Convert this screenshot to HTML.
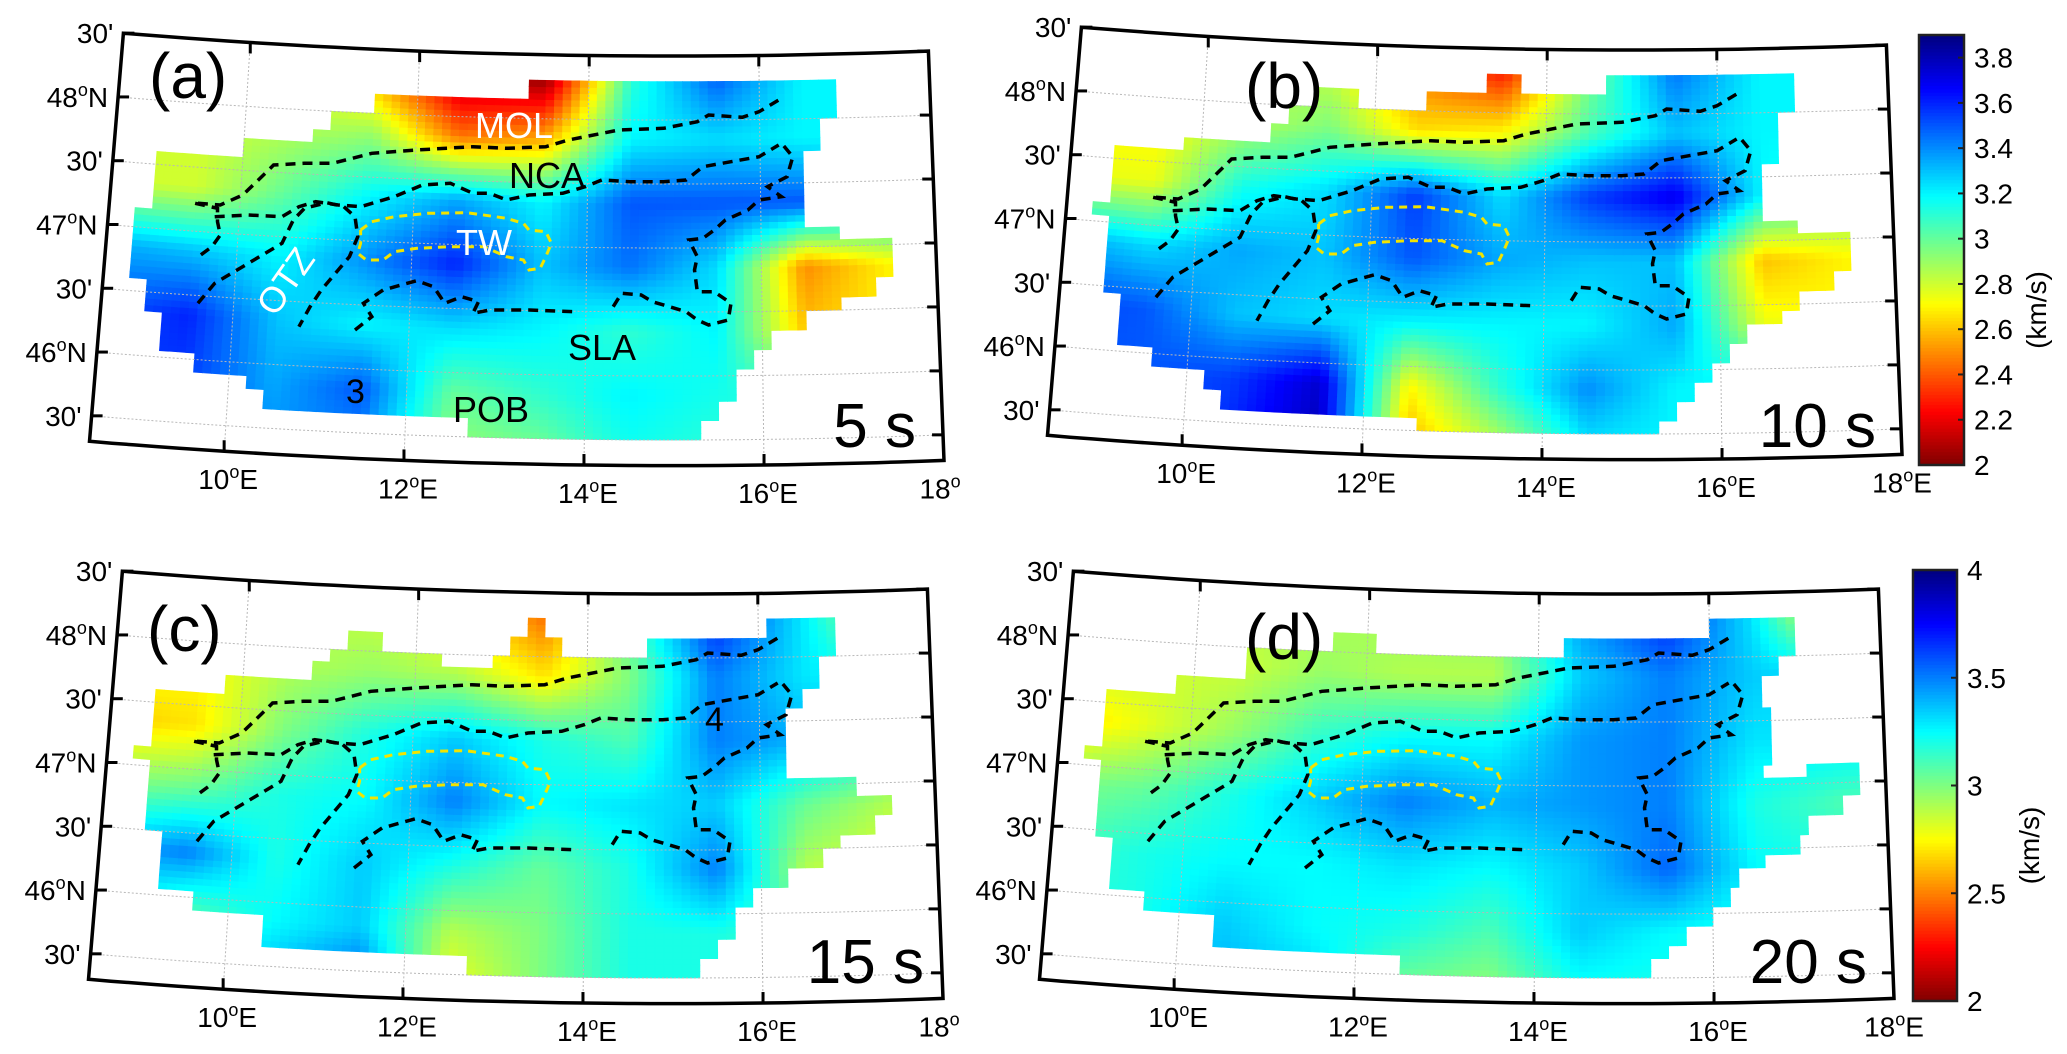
<!DOCTYPE html>
<html><head><meta charset="utf-8"><title>Group velocity maps</title>
<style>
html,body{margin:0;padding:0;background:#fff;}
svg{display:block;font-family:"Liberation Sans",Arial,sans-serif;}
</style></head>
<body>
<svg id="fig" width="2067" height="1054" viewBox="0 0 2067 1054" xmlns="http://www.w3.org/2000/svg">
<rect width="2067" height="1054" fill="#fff"/>
<g id="maps"></g>
<g id="cbars"></g>
</svg>
<script>
// ---------- data: node grid (km/s), lon nodes & lat nodes ----------
const lonNodes=[8.5,9.5,10.5,11.5,12.5,13.5,14.5,15.5,16.5,17.5];
const latNodes=[48.35,47.85,47.35,46.85,46.35,45.85,45.35];
const valuesA=[
[3.0,3.0,2.9,2.5,2.05,2.0,3.1,3.5,3.2,3.2],
[2.8,2.8,2.85,2.9,2.45,2.55,3.2,3.25,3.2,3.2],
[2.8,2.8,3.0,3.2,3.35,3.2,3.5,3.5,3.5,3.3],
[3.35,3.3,3.2,3.4,3.6,3.3,3.45,3.25,2.5,2.7],
[3.5,3.6,3.3,3.2,3.25,3.2,3.1,3.2,2.6,2.7],
[3.6,3.55,3.35,3.5,3.0,3.1,3.2,3.15,3.1,3.1],
[3.5,3.5,3.4,3.4,2.9,2.95,3.15,3.1,3.1,3.1]];
const valuesB=[
[2.9,2.9,2.9,2.8,2.45,2.25,2.95,3.45,3.2,3.2],
[2.7,2.7,2.85,2.95,2.65,2.7,3.05,3.3,3.2,3.2],
[2.75,2.75,3.15,3.25,3.55,3.25,3.55,3.7,3.2,3.0],
[3.35,3.25,3.35,3.3,3.5,3.35,3.3,3.3,2.6,2.7],
[3.55,3.5,3.3,3.25,3.2,3.2,3.2,3.35,2.75,2.7],
[3.5,3.5,3.55,3.75,2.7,3.1,3.4,3.2,3.2,3.2],
[3.5,3.5,3.6,3.8,2.55,2.8,3.2,3.2,3.2,3.2]];
const valuesC=[
[2.9,2.9,2.9,2.85,2.7,2.45,3.1,3.7,3.3,2.8],
[2.8,2.75,2.9,2.95,2.9,2.7,3.0,3.5,3.3,3.2],
[2.65,2.7,3.0,3.2,3.35,3.2,3.1,3.5,3.4,3.3],
[3.0,3.05,3.2,3.25,3.5,3.25,3.3,3.35,3.05,2.9],
[3.4,3.5,3.2,3.35,3.2,3.05,3.2,3.5,2.9,2.8],
[3.3,3.05,3.25,3.35,2.9,3.0,3.2,3.2,3.1,3.1],
[3.3,3.3,3.4,3.6,2.75,3.0,3.2,3.2,3.1,3.1]];
const valuesD=[
[2.9,2.9,2.9,2.9,2.95,3.0,3.45,3.7,3.3,2.6],
[2.9,2.85,2.85,2.95,2.9,2.9,3.35,3.5,3.35,3.3],
[2.65,2.8,2.95,3.15,3.25,3.25,3.45,3.5,3.3,3.3],
[3.0,3.05,3.2,3.35,3.5,3.4,3.45,3.5,3.2,3.1],
[3.1,3.2,3.25,3.25,3.3,3.25,3.35,3.55,3.25,3.2],
[3.2,3.2,3.35,3.25,3.2,3.1,3.35,3.25,3.2,3.2],
[3.2,3.2,3.4,3.35,3.0,2.95,3.2,3.2,3.2,3.2]];
// coverage masks: [latTop, latBottom, [[lonMin, lonMax], ...]]
const maskA=[
[48.28,48.13,[[13.25,16.9]]],[48.13,48.0,[[11.45,16.9]]],[48.0,47.87,[[11.0,16.7]]],
[47.87,47.74,[[10.8,16.7]]],[47.74,47.59,[[10.0,16.5]]],[47.59,47.17,[[9.0,16.5]]],
[47.17,47.04,[[8.8,16.9]]],[47.04,46.75,[[8.8,17.5]]],[46.75,46.62,[[8.8,17.3]]],
[46.62,46.49,[[9.0,16.9]]],[46.49,46.34,[[9.0,16.5]]],[46.34,46.2,[[9.2,16.1]]],
[46.2,46.07,[[9.2,15.9]]],[46.07,45.92,[[9.6,15.7]]],[45.92,45.79,[[10.2,15.7]]],
[45.79,45.64,[[10.4,15.5]]],[45.64,45.5,[[12.65,15.3]]]];
const maskB=[
[48.28,48.13,[[13.25,13.65],[14.65,16.9]]],[48.13,48.0,[[11.25,11.8],[12.6,16.9]]],
[48.0,47.85,[[11.0,16.7]]],[47.85,47.72,[[10.8,16.7]]],[47.72,47.58,[[9.8,16.7]]],
[47.58,47.16,[[9.0,16.5]]],[47.16,47.03,[[8.77,16.9]]],[47.03,46.74,[[9.0,17.5]]],
[46.74,46.59,[[9.0,17.3]]],[46.59,46.46,[[9.0,16.9]]],[46.46,46.33,[[9.15,16.7]]],
[46.33,46.18,[[9.15,16.3]]],[46.18,46.04,[[9.15,16.1]]],[46.04,45.91,[[9.57,15.9]]],
[45.91,45.76,[[10.2,15.7]]],[45.76,45.62,[[10.4,15.5]]],[45.62,45.49,[[12.6,15.25]]]];
const maskC=[
[48.29,48.15,[[13.27,13.46],[16.1,16.9]]],[48.15,48.01,[[11.24,11.64],[13.06,13.67],[14.69,16.9]]],
[48.01,47.88,[[11.0,12.25],[12.85,16.7]]],[47.88,47.74,[[10.8,16.7]]],[47.74,47.59,[[9.8,16.5]]],
[47.59,47.17,[[9.0,16.3]]],[47.17,47.04,[[8.8,16.3]]],[47.04,46.89,[[9.0,17.1]]],
[46.89,46.75,[[9.0,17.5]]],[46.75,46.62,[[9.0,17.3]]],[46.62,46.49,[[9.0,16.9]]],
[46.49,46.34,[[9.2,16.7]]],[46.34,46.2,[[9.2,16.3]]],[46.2,46.07,[[9.2,15.9]]],
[46.07,45.92,[[9.6,15.7]]],[45.92,45.79,[[10.4,15.7]]],[45.79,45.64,[[10.4,15.5]]],
[45.64,45.5,[[12.65,15.3]]]];
const maskD=[
[48.29,48.14,[[15.95,16.96]]],[48.14,48.01,[[11.63,12.06],[14.3,16.96]]],
[48.01,47.87,[[10.63,16.75]]],[47.87,47.73,[[10.63,16.55]]],[47.73,47.59,[[9.8,16.55]]],
[47.59,47.17,[[8.98,16.7]]],[47.17,47.03,[[8.78,16.55],[17.1,17.7]]],[47.03,46.89,[[8.98,17.7]]],
[46.89,46.75,[[8.98,17.5]]],[46.75,46.62,[[8.98,17.1]]],[46.62,46.47,[[8.98,16.95]]],
[46.47,46.34,[[9.19,16.55]]],[46.34,46.2,[[9.19,16.34]]],[46.2,46.05,[[9.19,16.15]]],
[46.05,45.91,[[9.6,15.95]]],[45.91,45.77,[[10.42,15.74]]],[45.77,45.64,[[10.42,15.54]]],
[45.64,45.5,[[12.46,15.33]]]];
const latTicks=[48.5,48,47.5,47,46.5,46,45.5];
const latTickLabels=["30'","48|N","30'","47|N","30'","46|N","30'"];
const lonTicks=[10,12,14,16,18];
const cbTicksTop=[2,2.2,2.4,2.6,2.8,3,3.2,3.4,3.6,3.8];
const cbLabelsTop=["2","2.2","2.4","2.6","2.8","3","3.2","3.4","3.6","3.8"];
const cbTicksBot=[2,2.5,3,3.5,4];
const cbLabelsBot=["2","2.5","3","3.5","4"];

// ---------- tectonic outlines traced (reference pixel trace of panel a) ----------
const traces=[
 {c:'k',p:[210,520,250,525,290,495,330,430,345,405,400,400,450,400,520,370,600,360,700,350,760,355,830,350,870,330,900,320,960,300,1040,295,1100,275,1120,255,1180,262,1210,245,1245,210]},
 {c:'k',p:[240,560,300,555,360,560,390,530,420,515,460,525,500,530,560,500,610,465,660,460,700,490,730,490,760,510,800,495,860,490,900,470,930,450,980,455,1040,455,1080,450,1110,410,1160,395,1210,380,1245,345]},
 {c:'k',p:[210,820,240,760,280,720,330,670,360,640,380,570,400,535,440,518,470,530,490,560,495,620,480,680,455,730,430,780,410,830,390,890]},
 {c:'k',p:[205,520,245,535,245,575,250,615,235,650,215,675]},
 {c:'k',p:[490,900,520,860,505,820,540,780,600,752,630,770,650,820,680,800,710,815,700,850,730,840,800,840,880,845,880,860]},
 {c:'k',p:[950,830,965,790,1000,795,1020,815,1050,830,1080,845,1100,870,1120,885,1155,870,1160,820,1130,785,1100,785,1095,720,1100,680,1085,630,1110,625,1130,600,1150,570,1190,540,1210,510,1250,500,1225,470,1260,440,1270,380,1250,340]},
 {c:'y',p:[500,600,520,575,560,560,620,550,690,548,760,565,790,580,800,600,830,605,840,640,830,680,820,715,800,720,790,690,760,680,720,650,660,650,600,655,560,665,540,690,510,690,495,670,500,640,500,600]}
];

const NS='http://www.w3.org/2000/svg';
const n=0.731,S=128,R0=6839,L0=15,D=Math.PI/180;
const LATMIN=45.3,LATMAX=48.5,LONMIN=8.5,LONMAX=18;
function proj(lon,lat,P){const th=n*(lon-L0)*D;const r=R0-(lat-47)*S;return [P.ax+r*Math.sin(th),P.ay+r*Math.cos(th)];}
function unproj(X,Y,P){const dx=X-P.ax,dy=Y-P.ay;const r=Math.hypot(dx,dy);const th=Math.atan2(dx,dy);return [L0+th/D/n,47+(R0-r)/S];}
function jet(t){const c=x=>Math.max(0,Math.min(1,x));return [c(1.5-Math.abs(4*t-3)),c(1.5-Math.abs(4*t-2)),c(1.5-Math.abs(4*t-1))];}
function color(v,vmin,vmax){let t=(v-vmin)/(vmax-vmin);t=Math.max(0,Math.min(1,t));const j=jet(1-t);return 'rgb('+j.map(x=>Math.round(x*255)).join(',')+')';}
function interp(vals,lon,lat){
 let i=(lon-lonNodes[0])/(lonNodes[1]-lonNodes[0]);let k=(latNodes[0]-lat)/(latNodes[0]-latNodes[1]);
 i=Math.max(0,Math.min(lonNodes.length-1.0001,i));k=Math.max(0,Math.min(latNodes.length-1.0001,k));
 const i0=Math.floor(i),k0=Math.floor(k),fi=i-i0,fk=k-k0;
 const a=vals[k0][i0],b=vals[k0][i0+1],c=vals[k0+1][i0],d=vals[k0+1][i0+1];
 return (a*(1-fi)+b*fi)*(1-fk)+(c*(1-fi)+d*fi)*fk;}
function inMask(mask,lon,lat){for(const r of mask){if(lat<=r[0]&&lat>r[1]){for(const s of r[2]){if(lon>=s[0]&&lon<=s[1])return true;}return false;}}return false;}
function el(tag,attrs,parent){const e=document.createElementNS(NS,tag);for(const k in attrs)e.setAttribute(k,attrs[k]);parent.appendChild(e);return e;}
function pts(arr){return arr.map(p=>p[0].toFixed(1)+','+p[1].toFixed(1)).join(' ');}

const PA={ax:674,ay:-6591};
const panels=[
 {key:'a',ax:674,ay:-6591,vals:valuesA,mask:maskA,vmin:2,vmax:3.9,lab:'(a)',lx:149,ly:98,per:'5 s',px:916,py:447,e18:false},
 {key:'b',ax:1632,ay:-6597,vals:valuesB,mask:maskB,vmin:2,vmax:3.9,lab:'(b)',lx:1245,ly:108,per:'10 s',px:1876,py:447,e18:true},
 {key:'c',ax:673,ay:-6053,vals:valuesC,mask:maskC,vmin:2,vmax:4,lab:'(c)',lx:147,ly:651,per:'15 s',px:924,py:983,e18:false},
 {key:'d',ax:1624,ay:-6053,vals:valuesD,mask:maskD,vmin:2,vmax:4,lab:'(d)',lx:1245,ly:659,per:'20 s',px:1867,py:983,e18:true}
];
const maps=document.getElementById('maps');
panels.forEach(P=>{
 const g=el('g',{},maps);
 
 
 const hm=el('g',{},g);
 
 
 const dlon=0.1,dlat=0.05;
 for(let lat=LATMIN;lat<LATMAX-1e-6;lat+=dlat){
  for(let lon=LONMIN;lon<LONMAX-1e-6;lon+=dlon){
   const cl=lon+dlon/2,ct=lat+dlat/2;
   if(!inMask(P.mask,cl,ct))continue;
   const col=color(interp(P.vals,cl,ct),P.vmin,P.vmax);
   const poly=el('polygon',{points:pts([proj(lon,lat,P),proj(lon+dlon,lat,P),proj(lon+dlon,lat+dlat,P),proj(lon,lat+dlat,P)]),fill:col,stroke:col,'stroke-width':0.7},hm);
   
   
  }
 }
 const gr=el('g',{stroke:'#b8b8b8','stroke-width':1,'stroke-dasharray':'2 2',fill:'none'},g);
 
 
 [45.5,46,46.5,47,47.5,48].forEach(la=>{const a=[];for(let lo=LONMIN;lo<=LONMAX+1e-6;lo+=0.25)a.push(proj(lo,la,P));el('polyline',{points:pts(a)},gr);});
 [10,12,14,16].forEach(lo=>{el('polyline',{points:pts([proj(lo,LATMIN,P),proj(lo,LATMAX,P)])},gr);});
 traces.forEach(t=>{
  const a=[];for(let i=0;i<t.p.length;i+=2){const X=80+t.p[i]*880/1568,Y=30+t.p[i+1]/3;const ll=unproj(X,Y,PA);a.push(proj(ll[0],ll[1],P));}
  const pl=el('polyline',{points:pts(a),fill:'none',stroke:t.c==='k'?'#000':'#f2e400','stroke-width':t.c==='k'?3.5:3,'stroke-dasharray':t.c==='k'?'10 7':'8 6','stroke-linecap':'butt'},g);
  
  
 });
 const fr=[];
 for(let lo=LONMIN;lo<=LONMAX+1e-6;lo+=0.25)fr.push(proj(lo,LATMIN,P));
 for(let lo=LONMAX;lo>=LONMIN-1e-6;lo-=0.25)fr.push(proj(lo,LATMAX,P));
 const fp=el('polygon',{points:pts(fr),fill:'none',stroke:'#000','stroke-width':3.5},g);
 
 
 const tk=el('g',{stroke:'#000','stroke-width':3},g);
 
 
 latTicks.forEach((la,i)=>{
  const l=proj(LONMIN,la,P),r=proj(LONMAX,la,P);
  el('line',{x1:l[0],y1:l[1],x2:l[0]+11,y2:l[1]},tk);
  el('line',{x1:r[0],y1:r[1],x2:r[0]-11,y2:r[1]},tk);
  const txt=latTickLabels[i];
  const t=el('text',{x:l[0]-10,y:l[1]+10,'font-size':28,'text-anchor':'end',fill:'#000'},g);
  
  
  if(txt.indexOf('|')>=0){const p=txt.split('|');t.appendChild(document.createTextNode(p[0]));el('tspan',{dy:-11,'font-size':18},t).textContent='o';el('tspan',{dy:11},t).textContent=p[1];}
  else t.textContent=txt;
 });
 lonTicks.forEach(lo=>{
  const b=proj(lo,LATMIN,P),tp=proj(lo,LATMAX,P);
  if(lo<18){el('line',{x1:b[0],y1:b[1],x2:b[0],y2:b[1]-11},tk);el('line',{x1:tp[0],y1:tp[1],x2:tp[0],y2:tp[1]+11},tk);}
  const t=el('text',{x:b[0]+(lo===18?(P.e18?0:-4):4),y:b[1]+38,'font-size':28,'text-anchor':'middle',fill:'#000'},g);
  
  
  t.appendChild(document.createTextNode(String(lo)));
  el('tspan',{dy:-11,'font-size':18},t).textContent='o';
  if(lo<18||P.e18)el('tspan',{dy:11},t).textContent='E';
 });
 const lb=el('text',{x:P.lx,y:P.ly,'font-size':64,fill:'#000'},g);lb.textContent=P.lab;
 
 
 const pe=el('text',{x:P.px,y:P.py,'font-size':62,'text-anchor':'end',fill:'#000'},g);pe.textContent=P.per;
 
 
});
const ann=[
 ['MOL',475,138,36,'#fff',0,'region-label-mol'],['NCA',509,188,36,'#000',0,'region-label-nca'],
 ['TW',456,255,36,'#fff',0,'region-label-tw'],['SLA',568,360,36,'#000',0,'region-label-sla'],
 ['POB',453,422,36,'#000',0,'region-label-pob'],['3',346,403,34,'#000',0,'marker-3'],
 ['4',705,731,34,'#000',0,'marker-4'],['OTZ',275,318,36,'#fff',-55,'region-label-otz']];
ann.forEach(a=>{const t=el('text',{x:a[1],y:a[2],'font-size':a[3],fill:a[4]},maps);
 if(a[5])t.setAttribute('transform','rotate('+a[5]+' '+a[1]+' '+a[2]+')');t.textContent=a[0];
 
 });
const cb=document.getElementById('cbars');
function colorbar(x,y0,y1,w,vmin,vmax,ticks,labels,name){
 const g=el('g',{},cb);
 
 
 const N=128,h=(y1-y0)/N;
 for(let i=0;i<N;i++){const v=vmin+(i+0.5)/N*(vmax-vmin);el('rect',{x:x,y:(y1-(i+1)*h).toFixed(2),width:w,height:(h+0.6).toFixed(2),fill:color(v,vmin,vmax)},g);}
 el('rect',{x:x,y:y0,width:w,height:y1-y0,fill:'none',stroke:'#222','stroke-width':2.5},g);
 ticks.forEach((v,i)=>{const yy=y1-(v-vmin)/(vmax-vmin)*(y1-y0);
  el('line',{x1:x+w-6,y1:yy,x2:x+w,y2:yy,stroke:'#222','stroke-width':2},g);
  const t=el('text',{x:x+w+10,y:yy+10,'font-size':28,fill:'#000'},g);t.textContent=labels[i];
  
  });
 const cy=(y0+y1)/2+60;const u=el('text',{x:x+w+82,y:cy,'font-size':28,'text-anchor':'middle',transform:'rotate(-90 '+(x+w+82)+' '+cy+')'},g);u.textContent='(km/s)';
 
 
}
colorbar(1919,35,465,45,2,3.9,cbTicksTop,cbLabelsTop,'colorbar-top');
colorbar(1913,570,1001,44,2,4,cbTicksBot,cbLabelsBot,'colorbar-bottom');
</script>
</body></html>
